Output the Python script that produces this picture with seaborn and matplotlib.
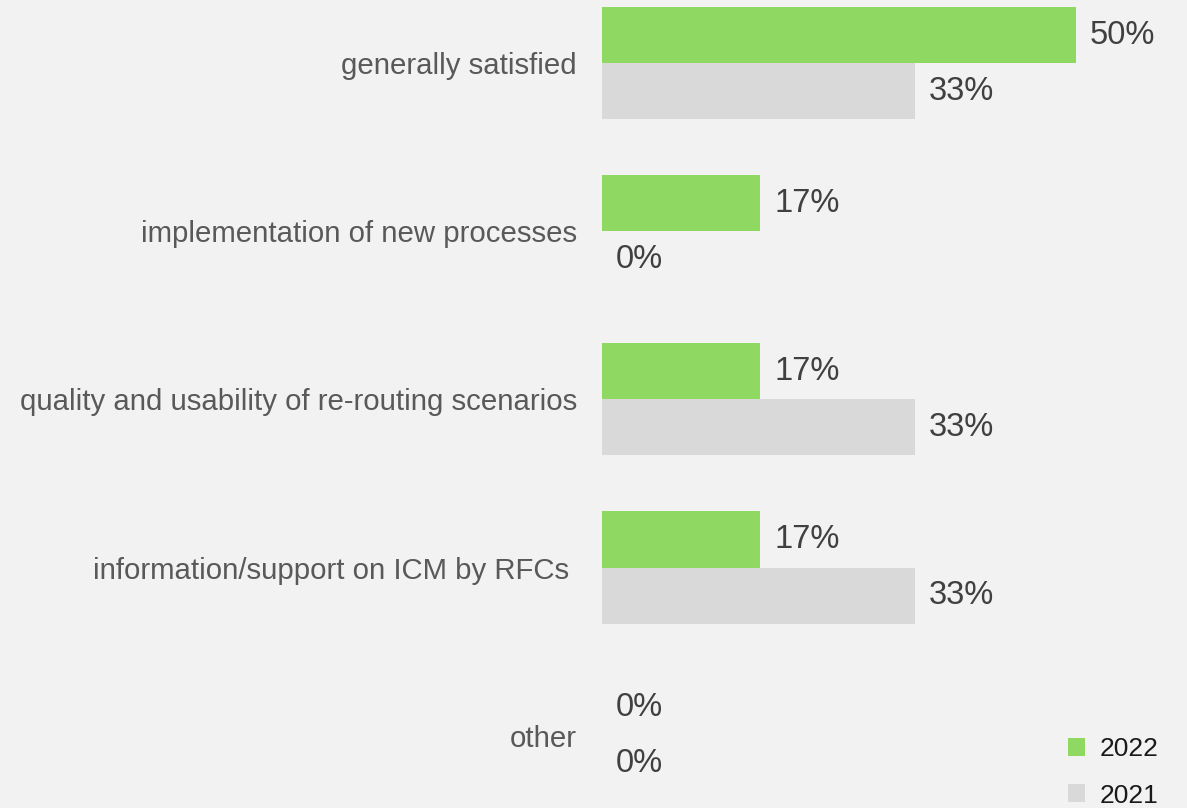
import pandas as pd
import matplotlib.pyplot as plt
import seaborn as sns

categories = [
    "generally satisfied",
    "implementation of new processes",
    "quality and usability of re-routing scenarios",
    "information/support on ICM by RFCs ",
    "other",
]
years = ["2022", "2021"]
share_2022 = [50, 16.7, 16.7, 16.7, 0]
share_2021 = [33, 0, 33, 33, 0]

df = pd.DataFrame({
    "category": categories * 2,
    "year": [years[0]] * len(categories) + [years[1]] * len(categories),
    "share": share_2022 + share_2021,
})

sns.set_theme(style="white")
plt.rcParams['font.family'] = ['Liberation Sans', 'DejaVu Sans']

bg = "#f2f2f2"
fig = plt.figure(figsize=(11.87, 8.08), dpi=100, facecolor=bg)
ax = fig.add_axes([602 / 1187, 0, 1 - 602 / 1187, 1])
ax.set_facecolor(bg)

sns.barplot(data=df, x="share", y="category", hue="year", orient="h",
            palette={"2022": "#8fd862", "2021": "#d9d9d9"},
            width=0.667, saturation=1, linewidth=0, ax=ax, legend=True)

for cont in ax.containers:
    ax.bar_label(cont, fmt="{:.0f}%", padding=10, fontsize=23.5, color="#404040")

ax.set_xlim(0, 61.7)
ax.set_ylim(4.43, -0.375)
ax.set_xlabel("")
ax.set_ylabel("")
ax.set_xticks([])
ax.tick_params(axis="y", length=0, pad=18, labelsize=21.2, labelcolor="#595959")
sns.despine(ax=ax, left=True, bottom=True)

handles, labels = ax.get_legend_handles_labels()
ax.get_legend().remove()
fig.legend(handles, labels, loc="upper left",
           bbox_to_anchor=(1047 / 1187, 1 - 716 / 808),
           frameon=False, fontsize=19, handlelength=0.65, handleheight=0.65,
           handletextpad=0.55, labelspacing=0.85, labelcolor="#1a1a1a",
           borderpad=0.3)

fig.savefig("out.png", dpi=100, facecolor=bg)
